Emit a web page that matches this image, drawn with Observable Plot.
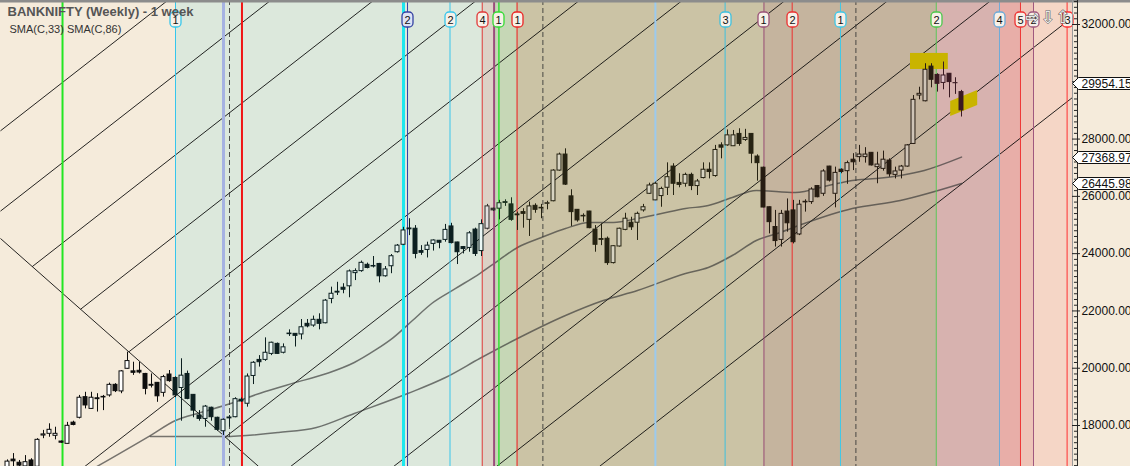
<!DOCTYPE html>
<html><head><meta charset="utf-8">
<script src="https://cdn.jsdelivr.net/npm/d3@7"></script>
<script src="https://cdn.jsdelivr.net/npm/@observablehq/plot@0.6"></script>
<style>
html,body{margin:0;padding:0;background:#f5ebdb;}
#chart{width:1130px;height:466px;overflow:hidden;}
</style></head><body><div id="chart"></div>
<script>
// ---- weekly candles (week index 0..159) ----
const opens = [
16450,16810,16700,16570,16780,16560,17650,17710,17640,17440,
17360,18100,18270,18990,18580,18950,18980,19050,19420,19190,
19980,19890,19910,19800,19420,19490,19140,19780,19660,19310,
19800,19070,18350,18230,18620,18270,17800,18250,18290,18900,
18760,19730,20290,20290,20500,20850,20540,21190,21200,21180,
21550,21490,21690,21570,22420,22640,22810,22860,23320,23390,
23610,23550,23640,23210,23560,24050,24310,24850,24870,24090,
24130,24340,24450,24480,24950,24390,24230,24200,24840,24090,
24870,25570,25570,25770,25720,25340,25450,25180,25670,25580,
25740,25830,26900,27460,26000,25530,25300,25470,24840,24480,
24520,23670,24250,24830,25080,25080,25510,26090,25860,26010,
26300,27040,26470,26440,26750,26360,26640,26930,26710,27780,
27780,27750,28180,27970,28180,27390,27000,25620,24930,24480,
25470,25510,24670,25790,25800,26360,26090,27040,26090,26930,
26880,27280,27370,27370,27520,27020,26960,27250,26750,26900,
27040,27830,29520,29320,30530,30240,29960,30280,29950,29640];
const highs = [
16800,17020,16780,16950,16840,17540,17830,18060,17940,17460,
18110,18150,19050,19160,19160,19110,19050,19480,19460,19920,
20560,20210,20210,19820,19800,19500,19750,19920,19700,20330,
19900,19080,18520,18700,18640,18290,18230,18350,18970,18960,
19800,20230,20440,21060,20910,20880,20850,21340,21210,21700,
21700,21820,21900,22400,22830,23000,22950,23430,23470,23740,
23670,23900,23660,23550,23970,24320,24920,25220,24980,24280,
24400,24480,24460,25020,25060,24400,24250,24770,24890,25180,
25720,25590,25860,25880,25950,25450,25570,25800,25740,25720,
25830,26930,27510,27660,26230,25540,25390,25480,24980,25040,
24580,24280,24890,25410,25270,25450,25720,26460,26500,26320,
27170,27140,26790,26810,26810,26590,27170,27170,27780,27870,
28320,28300,28360,28340,28190,27450,27020,25630,25510,25510,
25910,25860,25860,25880,26300,26380,26930,27050,27020,26960,
27230,27490,27780,27700,27530,27540,27580,27310,27020,27080,
27810,29520,29810,30630,30630,30280,30690,30290,30140,29700];
const lows = [
16400,16550,16500,16500,16450,16500,17540,17590,17500,17380,
17350,17990,18230,18580,18560,18470,18520,18990,19150,19110,
19960,19750,19800,19070,19310,18810,18990,19510,18970,18150,
18900,18270,18150,17940,18150,17800,17650,17940,18270,18810,
18640,19430,20040,20240,20440,20480,20500,21110,20740,20990,
21410,21430,21340,21550,22250,22540,22600,22460,23060,23350,
23470,23500,22980,23180,23300,24020,24280,24630,23820,23940,
23850,24090,24170,24400,24340,23620,23990,24050,23900,23900,
24830,25470,25180,25650,25130,24810,24890,24600,25410,25220,
25530,25810,26880,26380,24950,25100,25100,24870,24050,24280,
23590,23640,24230,24800,24810,24460,25450,26070,25850,25620,
26030,26030,26300,26320,26200,26030,26610,26610,26670,27310,
27750,27740,27750,27920,27140,26530,25600,24690,24230,24230,
24750,24340,24630,25450,25720,25950,26000,26500,25600,26790,
26420,26900,27190,27160,27060,26440,26880,26670,26610,26610,
27020,27810,29370,29300,29790,29640,29720,29440,29560,28770];
const closes = [
16740,16750,16600,16720,16560,17500,17690,17850,17710,17400,
17990,18020,18970,18700,18970,18920,19000,19420,19200,19890,
20250,19840,19850,19280,19390,19020,19690,19550,19050,19740,
18930,18520,18230,18660,18290,17850,18200,18280,18920,18840,
19710,20190,20210,20540,20890,20500,20730,21210,21130,21430,
21460,21690,21550,22360,22600,22670,22740,23380,23390,23680,
23500,23570,23210,23450,23910,24280,24810,24880,23990,24030,
24280,24460,24380,24830,24370,24050,24160,24710,23990,25030,
25650,25510,25760,25800,25180,25370,25390,25650,25530,25600,
25760,26900,27460,26410,25450,25160,25320,24890,24310,24510,
23670,24260,24870,25220,24920,25390,25620,26380,26440,26260,
26670,26440,26400,26750,26360,26520,26930,26850,27620,27700,
28130,28130,27830,28040,27490,27160,25610,25100,24440,25390,
25060,24400,25710,25810,26240,25970,26870,26550,26820,26850,
27160,27190,27460,27460,27080,27110,27280,26770,26870,27040,
27780,29370,29580,30420,30070,29930,30220,29990,29954,29000];

// ---- moving averages ----
const sma33Weeks  = [13.5,23.8,28,32.2,37.2,42,47.5,53.2,57.8,61.2,64.3,67.5,70.7,74.7,78.7,81.8,85,89,93,97,101,105,109,113,116.8,120.8,124.8,131.3,136.8,140.8,144.8,148.8,152.8,159];
const sma33Values = [16400,17650,18175,18455,18770,19120,19470,19815,20200,20620,21070,21665,22260,22785,23305,23760,24215,24565,24880,25085,25090,25225,25400,25575,25680,25960,26205,26135,26380,26555,26625,26730,26905,27369];
const sma86Weeks  = [23.8,36,45.2,51.5,57.8,66.7,73,78.7,85,93,99.3,105,113,116.8,120.8,124.8,128.8,132.8,140.8,148.8,159];
const sma86Values = [17616,17616,17756,17931,18419,19117,19676,20339,21037,21841,22364,22713,23307,23516,23935,24459,24740,25053,25576,25855,26446];

// ---- parallel trend lines and the falling line (week, price) start -> end ----
const fanWeek1  = [-1.17,-1.17,4.13,12.18,20.22,12.88,36.3,47.19,64.35,81.5,98.65,-1.17];
const fanPrice1 = [28288,25485,23548,22060,20571,16569,17593,16569,16569,16569,16569,24529];
const fanWeek2  = [26.68,43.83,60.99,78.14,95.3,112.45,129.6,146.76,163.9,177.5,177.5,41.86];
const fanPrice2 = [32838,32838,32838,32838,32838,32838,32838,32838,32838,32255,29452,16569];

// ---- time zones ----
const zoneStarts = [-1.17,28,79.17,81.17,84.83,126,154.67,165.33,168.83,171];
const zoneEnds   = [28,79.17,81.17,84.83,126,154.67,165.33,168.83,171,177.5];
const zoneFills  = ["#f5ebdb","#dce8dc","#dcd2c6","#c6d7b6","#cbc3a5","#c5b49e","#d7b2af","#e8aea8","#eec4b8","#f5d6c6"];
const zoneUp     = ["#ffffff","#ebf7f5","#e3e0df","#cfe6d2","#d8d4c2","#cfc4b7","#dfc2c9","#f0d0cc","#f2d8d0","#f8e4da"];
const zoneDown   = ["#0d0d0d","#0c1f20","#312e2d","#1a321e","#262312","#271c12","#3a1a22","#48201c","#40241e","#3a2a24"];

// ---- vertical cycle lines ----
const vlineWeeks  = [9.17,28,36,39.08,66,66.67,73.75,79.12,81.1,81.9,84.93,107.98,119.6,126.08,130.78,138.83,154.78,165.33,168.83,171,176.6];
const vlineColors = ["#22e622","#35c6ec","#a6b2e2","#f01515","#1ee8ee","#3442a2","#38c6ec","#e03a3a","#9c4c7c","#35dc35","#ec2424","#9ccaee","#3ec0de","#9a5278","#ec3030","#3ec8e8","#4cc84c","#6caad8","#ee3434","#a0587e","#ff3030"];
const vlineWidths = [2,1,3,2,3,1,1,1,2,1.5,1,2,1,1,1,1,1,1,1,1,1];
const dashWeeks   = [37,89.23,141.4];

const labelWeeks  = [28,66.67,73.75,79.12,81.9,84.93,119.6,126.08,130.78,138.83,154.78,165.33,168.83,171,176.6];
const labelTexts  = ["1","2","2","4","1","1","3","1","2","1","2","4","5","2","3"];
const labelColors = ["#35c6ec","#3442a2","#38c6ec","#e03a3a","#35dc35","#ec2424","#3ec0de","#9a5278","#ec3030","#3ec8e8","#4cc84c","#6caad8","#ee3434","#a0587e","#ff3030"];

const arrowWeeks  = [170.8,173.4,175.9];
const arrowGlyphs = ["⇨","⇩","⇧"];

// ---- axis ----
const yTicks      = [18000,20000,22000,24000,26000,28000,30000,32000];
const yTickLabels = ["18000.00","20000.00","22000.00","24000.00","26000.00","28000.00","30000.00","32000.00"];
const markerValues = [29954.15,27368.97,26445.98];
const markerLabels = ["29954.15","27368.97","26445.98"];

const highlightRect = [{x1:150.5,x2:156.8,y1:30430,y2:30990}];
const highlightBandWeeks = [157.2,161.7];
const highlightBandLo = [28790,29172];
const highlightBandHi = [29312,29696];

const title = "BANKNIFTY (Weekly) - 1 week";
const subtitle = "SMA(C,33) SMA(C,86)";

// ---- build tables ----
const yMin = 16569, yMax = 32838;
const zones = zoneStarts.map((s,k)=>({s, e: zoneEnds[k], fill: zoneFills[k], up: zoneUp[k], down: zoneDown[k]}));
const zoneOf = i => zones.find(z => i >= z.s && i < z.e) || zones[0];
const candles = opens.map((o,i)=>({i, o, h: highs[i], l: lows[i], c: closes[i], z: zoneOf(i)}));
const sma33 = sma33Weeks.map((w,k)=>({w, v: sma33Values[k]}));
const sma86 = sma86Weeks.map((w,k)=>({w, v: sma86Values[k]}));
const fans = fanWeek1.map((w,k)=>({x1:w, y1:fanPrice1[k], x2:fanWeek2[k], y2:fanPrice2[k]}));
const vlines = vlineWeeks.map((w,k)=>({w, c: vlineColors[k], sw: vlineWidths[k]}));
const band = highlightBandWeeks.map((w,k)=>({w, lo: highlightBandLo[k], hi: highlightBandHi[k]}));
const minorTicks = d3.range(16600, 32801, 200).filter(v => v % 2000 !== 0);

function topLabels(index, scales) {
  const g = d3.create("svg:g");
  labelWeeks.forEach((w,k)=>{
    const cx = Math.round(scales.x(w)) + 0.5;
    g.append("rect").attr("x", cx-5.5).attr("y", 12).attr("width", 11).attr("height", 15)
      .attr("rx", 4).attr("fill", labelColors[k] === "#3442a2" ? "#dde2f4" : "#f7f0e8")
      .attr("stroke", labelColors[k]).attr("stroke-width", 1.3);
    g.append("text").attr("x", cx).attr("y", 23.5).attr("text-anchor","middle")
      .attr("font-family","Liberation Sans, Arial, sans-serif").attr("font-size", 11)
      .attr("fill","#111").text(labelTexts[k]);
  });
  return g.node();
}

function priceBoxes(index, scales, values, dims) {
  const g = d3.create("svg:g");
  const x0 = Math.round(scales.x(177.5)) + 0.5;
  markerValues.forEach((v,k)=>{
    const y = Math.round(scales.y(v)) + 0.5;
    g.append("path")
      .attr("d", `M${x0},${y} L${x0+6},${y-6} L${dims.width+5},${y-6} L${dims.width+5},${y+6} L${x0+6},${y+6} Z`)
      .attr("fill","#ffffff").attr("stroke","#111").attr("stroke-width",1);
    g.append("text").attr("x", x0+9).attr("y", y+4.5).attr("text-anchor","start")
      .attr("font-family","Liberation Sans, Arial, sans-serif").attr("font-size", 12)
      .attr("fill","#111").text(markerLabels[k]);
  });
  return g.node();
}

const chart = Plot.plot({
  width: 1130, height: 466,
  marginLeft: 0, marginRight: 58, marginTop: 0, marginBottom: 0,
  x: {domain: [-7/6, 177.5], axis: null},
  y: {domain: [yMin, yMax], axis: null},
  color: {type: "identity"},
  style: {background: "#f5ebdb", fontFamily: "Liberation Sans, Arial, sans-serif"},
  marks: [
    Plot.rect(zones, {x1: "s", x2: "e", y1: yMin, y2: yMax, fill: "fill"}),
    Plot.link(fans, {x1: "x1", y1: "y1", x2: "x2", y2: "y2", stroke: "#000", strokeOpacity: 0.85, strokeWidth: 1, clip: true}),
    Plot.line(sma33, {x: "w", y: "v", curve: "monotone-x", stroke: "#333", strokeOpacity: 0.65, strokeWidth: 1.5, clip: true}),
    Plot.line(sma86, {x: "w", y: "v", curve: "monotone-x", stroke: "#333", strokeOpacity: 0.65, strokeWidth: 1.5, clip: true}),
    Plot.ruleX(dashWeeks, {x: d=>d, stroke: "#333", strokeOpacity: 0.85, strokeDasharray: "5,3"}),
    Plot.ruleX(vlines, {x: "w", stroke: "c", strokeWidth: "sw"}),
    Plot.rect(highlightRect, {x1: "x1", x2: "x2", y1: "y1", y2: "y2", fill: "#c9b400"}),
    Plot.areaY(band, {x: "w", y1: "lo", y2: "hi", fill: "#c9b400"}),
    Plot.ruleX(candles, {x: "i", y1: "l", y2: "h", stroke: d=>d.z.down, strokeWidth: 1, clip: true}),
    Plot.rect(candles, {x1: d=>d.i-0.33, x2: d=>d.i+0.33,
      y1: d=>Math.min(d.o,d.c), y2: d=>Math.max(d.o,d.c),
      fill: d=> d.c >= d.o ? d.z.up : d.z.down, stroke: d=>d.z.down, strokeWidth: 1, clip: true}),
    topLabels,
    Plot.ruleY([yMax], {x1: -2, x2: 190, stroke: "#8c8c8c", strokeWidth: 4}),
    Plot.text(arrowGlyphs, {x: (d,k)=>arrowWeeks[k], frameAnchor: "top", dy: 10, text: d=>d, fontSize: 17,
      fontFamily: "DejaVu Sans", fill: "#ffffff", stroke: "#555", strokeWidth: 1}),
    Plot.ruleX([177.5], {stroke: "#9a9a9a"}),
    Plot.ruleX([178.33], {stroke: "#222"}),
    Plot.ruleY(minorTicks, {y: d=>d, x1: 177.83, x2: 178.33, stroke: "#222"}),
    Plot.ruleY(yTicks, {y: d=>d, x1: 177.5, x2: 178.83, stroke: "#222"}),
    Plot.text(yTicks, {x: 178.99, y: d=>d, text: (d,k)=>yTickLabels[k], textAnchor: "start", fontSize: 12, fill: "#111"}),
    priceBoxes,
    Plot.text([title], {frameAnchor: "top-left", dx: 7, dy: 6, lineAnchor: "top", text: d=>d, textAnchor: "start",
      fontSize: 13, fontWeight: "bold", fill: "#555"}),
    Plot.text([subtitle], {frameAnchor: "top-left", dx: 9, dy: 25, lineAnchor: "top", text: d=>d, textAnchor: "start",
      fontSize: 11, fill: "#333"})
  ]
});
document.getElementById("chart").appendChild(chart);
</script>
</body></html>
